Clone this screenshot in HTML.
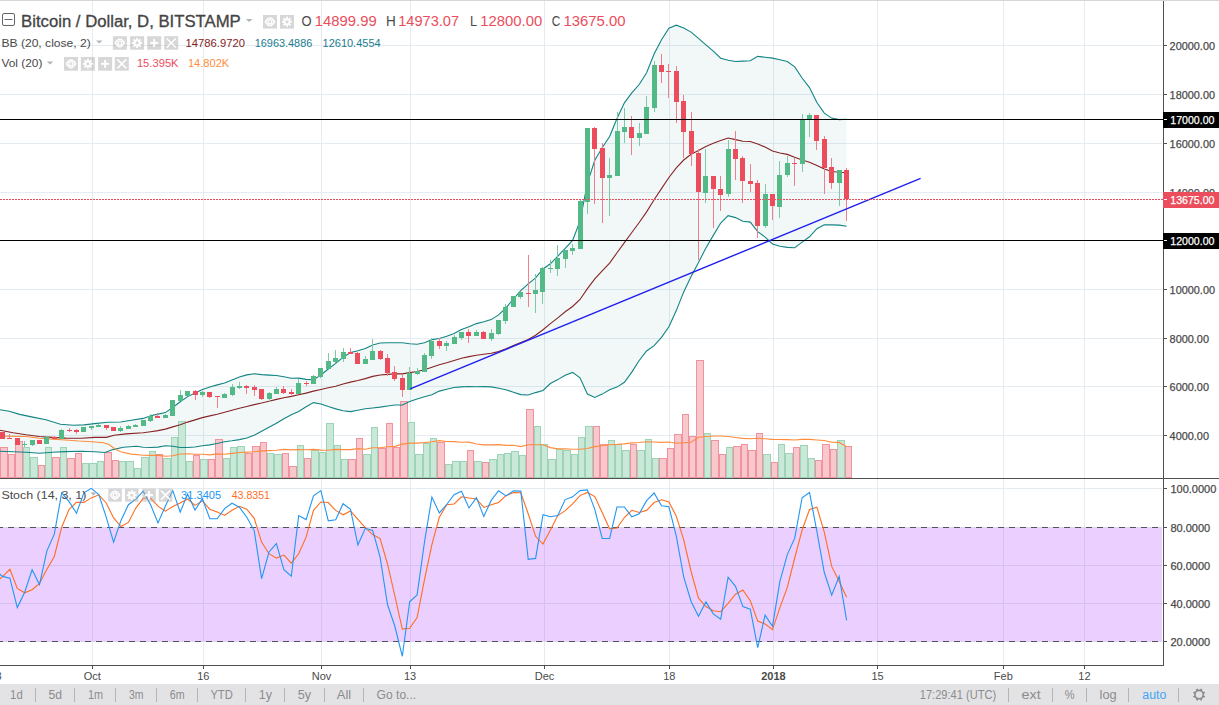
<!DOCTYPE html>
<html><head><meta charset="utf-8"><title>BTCUSD</title>
<style>html,body{margin:0;padding:0;background:#fff;width:1219px;height:705px;overflow:hidden}
svg text{font-family:"Liberation Sans", sans-serif}</style></head>
<body>
<svg width="1219" height="705" viewBox="0 0 1219 705" style="position:absolute;left:0;top:0;font-family:'Liberation Sans', sans-serif">
<rect x="0" y="0" width="1219" height="705" fill="#ffffff"/>
<g shape-rendering="crispEdges" stroke-width="1">
<line x1="0" y1="435.5" x2="1162" y2="435.5" stroke="#e4ecf2"/>
<line x1="0" y1="386.5" x2="1162" y2="386.5" stroke="#e4ecf2"/>
<line x1="0" y1="338.5" x2="1162" y2="338.5" stroke="#e4ecf2"/>
<line x1="0" y1="289.5" x2="1162" y2="289.5" stroke="#e4ecf2"/>
<line x1="0" y1="240.5" x2="1162" y2="240.5" stroke="#e4ecf2"/>
<line x1="0" y1="192.5" x2="1162" y2="192.5" stroke="#e4ecf2"/>
<line x1="0" y1="143.5" x2="1162" y2="143.5" stroke="#e4ecf2"/>
<line x1="0" y1="94.5" x2="1162" y2="94.5" stroke="#e4ecf2"/>
<line x1="0" y1="45.5" x2="1162" y2="45.5" stroke="#e4ecf2"/>
<line x1="0" y1="488.5" x2="1162" y2="488.5" stroke="#e4ecf2"/>
<line x1="0" y1="527.5" x2="1162" y2="527.5" stroke="#e4ecf2"/>
<line x1="0" y1="565.5" x2="1162" y2="565.5" stroke="#e4ecf2"/>
<line x1="0" y1="603.5" x2="1162" y2="603.5" stroke="#e4ecf2"/>
<line x1="0" y1="641.5" x2="1162" y2="641.5" stroke="#e4ecf2"/>
<line x1="92.5" y1="1" x2="92.5" y2="478" stroke="#e4ecf2"/>
<line x1="92.5" y1="479" x2="92.5" y2="665" stroke="#e4ecf2"/>
<line x1="203.5" y1="1" x2="203.5" y2="478" stroke="#e4ecf2"/>
<line x1="203.5" y1="479" x2="203.5" y2="665" stroke="#e4ecf2"/>
<line x1="321.5" y1="1" x2="321.5" y2="478" stroke="#e4ecf2"/>
<line x1="321.5" y1="479" x2="321.5" y2="665" stroke="#e4ecf2"/>
<line x1="410.5" y1="1" x2="410.5" y2="478" stroke="#e4ecf2"/>
<line x1="410.5" y1="479" x2="410.5" y2="665" stroke="#e4ecf2"/>
<line x1="544.5" y1="1" x2="544.5" y2="478" stroke="#e4ecf2"/>
<line x1="544.5" y1="479" x2="544.5" y2="665" stroke="#e4ecf2"/>
<line x1="669.5" y1="1" x2="669.5" y2="478" stroke="#e4ecf2"/>
<line x1="669.5" y1="479" x2="669.5" y2="665" stroke="#e4ecf2"/>
<line x1="773.5" y1="1" x2="773.5" y2="478" stroke="#e4ecf2"/>
<line x1="773.5" y1="479" x2="773.5" y2="665" stroke="#e4ecf2"/>
<line x1="877.5" y1="1" x2="877.5" y2="478" stroke="#e4ecf2"/>
<line x1="877.5" y1="479" x2="877.5" y2="665" stroke="#e4ecf2"/>
<line x1="1003.5" y1="1" x2="1003.5" y2="478" stroke="#e4ecf2"/>
<line x1="1003.5" y1="479" x2="1003.5" y2="665" stroke="#e4ecf2"/>
<line x1="1084.5" y1="1" x2="1084.5" y2="478" stroke="#e4ecf2"/>
<line x1="1084.5" y1="479" x2="1084.5" y2="665" stroke="#e4ecf2"/>
</g>
<rect x="0" y="527.5" width="1162" height="114" fill="#9915ff" fill-opacity="0.2"/>
<line x1="0" y1="527.5" x2="1162" y2="527.5" stroke="#55505a" stroke-width="1" stroke-dasharray="6 5" stroke-dashoffset="3.4" shape-rendering="crispEdges"/>
<line x1="0" y1="641.5" x2="1162" y2="641.5" stroke="#55505a" stroke-width="1" stroke-dasharray="6 5" stroke-dashoffset="3.4" shape-rendering="crispEdges"/>
<polygon points="0.0,409.8 9.2,411.2 19.7,414.4 32.8,417.1 45.9,419.7 60.4,424.3 73.5,425.2 84.0,424.9 94.5,423.6 107.6,422.3 120.7,422.0 131.2,420.3 143.2,418.4 150.6,415.8 158.0,414.1 165.4,412.6 172.8,407.5 180.2,401.8 187.6,396.6 195.0,392.9 202.4,389.4 209.8,387.0 217.2,384.9 224.6,383.0 232.0,379.9 239.4,377.0 246.8,374.9 254.2,373.8 261.6,374.6 269.0,375.1 276.4,375.5 283.9,376.8 291.3,378.2 298.7,378.1 306.1,379.4 313.5,379.7 320.9,375.0 328.3,369.0 335.7,363.4 343.1,357.3 350.5,352.6 357.9,350.8 365.3,348.5 372.7,344.9 380.1,343.0 387.5,342.7 394.9,342.8 402.3,342.8 409.7,343.7 417.1,344.2 424.5,342.8 431.9,339.6 439.3,338.5 446.7,336.3 454.1,333.5 461.5,329.6 469.0,326.8 476.4,323.6 483.8,321.8 491.2,319.6 498.6,314.9 506.0,307.8 513.4,299.0 520.8,290.7 528.2,283.8 535.6,277.9 543.0,269.0 550.4,263.8 557.8,256.1 565.2,248.4 572.6,240.5 580.0,221.2 587.4,183.2 594.8,160.3 602.2,147.7 609.6,136.5 617.0,118.5 624.4,102.8 631.8,92.9 639.2,84.5 646.6,72.8 654.1,54.0 661.5,39.7 668.9,28.3 676.3,25.2 683.7,28.1 691.1,32.1 698.5,38.4 705.9,44.8 713.3,51.2 720.7,58.2 728.1,60.3 735.5,61.5 742.9,61.1 750.3,60.8 757.7,56.4 765.1,57.2 772.5,58.1 779.9,59.7 787.3,61.5 794.7,66.9 802.1,78.0 809.5,87.6 816.9,102.5 824.3,113.1 831.7,118.1 839.2,119.6 846.6,119.3 846.6,226.2 839.2,225.1 831.7,224.9 824.3,224.7 816.9,228.7 809.5,236.8 802.1,242.1 794.7,247.7 787.3,247.4 779.9,246.2 772.5,244.0 765.1,237.1 757.7,231.6 750.3,222.1 742.9,221.2 735.5,217.6 728.1,215.7 720.7,223.0 713.3,235.4 705.9,247.9 698.5,262.6 691.1,276.5 683.7,291.9 676.3,310.6 668.9,326.7 661.5,337.4 654.1,345.6 646.6,351.0 639.2,360.5 631.8,372.1 624.4,382.3 617.0,387.1 609.6,389.7 602.2,394.1 594.8,397.4 587.4,394.0 580.0,377.8 572.6,372.4 565.2,375.2 557.8,379.6 550.4,383.5 543.0,390.5 535.6,392.6 528.2,395.0 520.8,394.6 513.4,392.2 506.0,389.7 498.6,388.2 491.2,386.9 483.8,386.6 476.4,386.8 469.0,386.5 461.5,386.9 454.1,387.5 446.7,389.3 439.3,391.1 431.9,394.8 424.5,396.8 417.1,398.9 409.7,401.6 402.3,405.0 394.9,405.0 387.5,406.0 380.1,407.1 372.7,408.0 365.3,408.8 357.9,410.2 350.5,411.6 343.1,410.8 335.7,408.9 328.3,406.6 320.9,404.0 313.5,402.6 306.1,406.7 298.7,411.5 291.3,414.7 283.9,418.7 276.4,423.3 269.0,427.3 261.6,431.3 254.2,435.3 246.8,438.0 239.4,439.6 232.0,440.8 224.6,441.7 217.2,443.5 209.8,444.9 202.4,445.7 195.0,447.0 187.6,447.5 180.2,447.5 172.8,446.3 165.4,445.7 158.0,447.1 150.6,447.5 143.2,447.2 136.5,446.2 123.4,447.2 112.9,449.6 105.0,452.5 94.5,451.8 81.4,451.2 65.6,451.6 52.5,452.2 39.4,453.2 26.2,452.2 13.1,451.8 0.0,451.2" fill="#198787" fill-opacity="0.055"/>
<g shape-rendering="crispEdges">
<rect x="0.5" y="447.5" width="7" height="30" fill="#f9c8cd" stroke="#f0939e" stroke-width="1"/>
<rect x="8.5" y="454.5" width="6" height="23" fill="#f9c8cd" stroke="#f0939e" stroke-width="1"/>
<rect x="15.5" y="441.5" width="7" height="36" fill="#f9c8cd" stroke="#f0939e" stroke-width="1"/>
<rect x="23.5" y="447.5" width="6" height="30" fill="#c9e8d8" stroke="#9dd4b8" stroke-width="1"/>
<rect x="30.5" y="457.5" width="7" height="20" fill="#c9e8d8" stroke="#9dd4b8" stroke-width="1"/>
<rect x="38.5" y="465.5" width="6" height="12" fill="#f9c8cd" stroke="#f0939e" stroke-width="1"/>
<rect x="45.5" y="447.5" width="6" height="30" fill="#c9e8d8" stroke="#9dd4b8" stroke-width="1"/>
<rect x="52.5" y="457.5" width="7" height="20" fill="#f9c8cd" stroke="#f0939e" stroke-width="1"/>
<rect x="60.5" y="447.5" width="6" height="30" fill="#c9e8d8" stroke="#9dd4b8" stroke-width="1"/>
<rect x="67.5" y="458.5" width="7" height="19" fill="#f9c8cd" stroke="#f0939e" stroke-width="1"/>
<rect x="75.5" y="453.5" width="6" height="24" fill="#f9c8cd" stroke="#f0939e" stroke-width="1"/>
<rect x="82.5" y="463.5" width="6" height="14" fill="#c9e8d8" stroke="#9dd4b8" stroke-width="1"/>
<rect x="89.5" y="463.5" width="7" height="14" fill="#c9e8d8" stroke="#9dd4b8" stroke-width="1"/>
<rect x="97.5" y="461.5" width="6" height="16" fill="#c9e8d8" stroke="#9dd4b8" stroke-width="1"/>
<rect x="104.5" y="452.5" width="7" height="25" fill="#f9c8cd" stroke="#f0939e" stroke-width="1"/>
<rect x="112.5" y="460.5" width="6" height="17" fill="#f9c8cd" stroke="#f0939e" stroke-width="1"/>
<rect x="119.5" y="461.5" width="6" height="16" fill="#c9e8d8" stroke="#9dd4b8" stroke-width="1"/>
<rect x="126.5" y="461.5" width="7" height="16" fill="#c9e8d8" stroke="#9dd4b8" stroke-width="1"/>
<rect x="134.5" y="468.5" width="6" height="9" fill="#c9e8d8" stroke="#9dd4b8" stroke-width="1"/>
<rect x="141.5" y="457.5" width="7" height="20" fill="#c9e8d8" stroke="#9dd4b8" stroke-width="1"/>
<rect x="149.5" y="451.5" width="6" height="26" fill="#c9e8d8" stroke="#9dd4b8" stroke-width="1"/>
<rect x="156.5" y="454.5" width="6" height="23" fill="#f9c8cd" stroke="#f0939e" stroke-width="1"/>
<rect x="163.5" y="458.5" width="7" height="19" fill="#c9e8d8" stroke="#9dd4b8" stroke-width="1"/>
<rect x="171.5" y="437.5" width="6" height="40" fill="#c9e8d8" stroke="#9dd4b8" stroke-width="1"/>
<rect x="178.5" y="421.5" width="7" height="56" fill="#c9e8d8" stroke="#9dd4b8" stroke-width="1"/>
<rect x="186.5" y="461.5" width="6" height="16" fill="#c9e8d8" stroke="#9dd4b8" stroke-width="1"/>
<rect x="193.5" y="455.5" width="6" height="22" fill="#f9c8cd" stroke="#f0939e" stroke-width="1"/>
<rect x="200.5" y="459.5" width="7" height="18" fill="#c9e8d8" stroke="#9dd4b8" stroke-width="1"/>
<rect x="208.5" y="459.5" width="6" height="18" fill="#f9c8cd" stroke="#f0939e" stroke-width="1"/>
<rect x="215.5" y="439.5" width="7" height="38" fill="#f9c8cd" stroke="#f0939e" stroke-width="1"/>
<rect x="223.5" y="458.5" width="6" height="19" fill="#c9e8d8" stroke="#9dd4b8" stroke-width="1"/>
<rect x="230.5" y="447.5" width="6" height="30" fill="#c9e8d8" stroke="#9dd4b8" stroke-width="1"/>
<rect x="237.5" y="446.5" width="7" height="31" fill="#c9e8d8" stroke="#9dd4b8" stroke-width="1"/>
<rect x="245.5" y="453.5" width="6" height="24" fill="#f9c8cd" stroke="#f0939e" stroke-width="1"/>
<rect x="252.5" y="446.5" width="7" height="31" fill="#f9c8cd" stroke="#f0939e" stroke-width="1"/>
<rect x="260.5" y="442.5" width="6" height="35" fill="#f9c8cd" stroke="#f0939e" stroke-width="1"/>
<rect x="267.5" y="453.5" width="6" height="24" fill="#c9e8d8" stroke="#9dd4b8" stroke-width="1"/>
<rect x="274.5" y="454.5" width="7" height="23" fill="#c9e8d8" stroke="#9dd4b8" stroke-width="1"/>
<rect x="282.5" y="453.5" width="6" height="24" fill="#f9c8cd" stroke="#f0939e" stroke-width="1"/>
<rect x="289.5" y="466.5" width="7" height="11" fill="#f9c8cd" stroke="#f0939e" stroke-width="1"/>
<rect x="297.5" y="445.5" width="6" height="32" fill="#c9e8d8" stroke="#9dd4b8" stroke-width="1"/>
<rect x="304.5" y="458.5" width="6" height="19" fill="#f9c8cd" stroke="#f0939e" stroke-width="1"/>
<rect x="311.5" y="450.5" width="7" height="27" fill="#c9e8d8" stroke="#9dd4b8" stroke-width="1"/>
<rect x="319.5" y="452.5" width="6" height="25" fill="#c9e8d8" stroke="#9dd4b8" stroke-width="1"/>
<rect x="326.5" y="423.5" width="7" height="54" fill="#c9e8d8" stroke="#9dd4b8" stroke-width="1"/>
<rect x="334.5" y="445.5" width="6" height="32" fill="#c9e8d8" stroke="#9dd4b8" stroke-width="1"/>
<rect x="341.5" y="459.5" width="6" height="18" fill="#c9e8d8" stroke="#9dd4b8" stroke-width="1"/>
<rect x="348.5" y="459.5" width="7" height="18" fill="#f9c8cd" stroke="#f0939e" stroke-width="1"/>
<rect x="356.5" y="438.5" width="6" height="39" fill="#f9c8cd" stroke="#f0939e" stroke-width="1"/>
<rect x="363.5" y="454.5" width="7" height="23" fill="#c9e8d8" stroke="#9dd4b8" stroke-width="1"/>
<rect x="371.5" y="427.5" width="6" height="50" fill="#c9e8d8" stroke="#9dd4b8" stroke-width="1"/>
<rect x="378.5" y="448.5" width="7" height="29" fill="#f9c8cd" stroke="#f0939e" stroke-width="1"/>
<rect x="386.5" y="423.5" width="6" height="54" fill="#f9c8cd" stroke="#f0939e" stroke-width="1"/>
<rect x="393.5" y="447.5" width="6" height="30" fill="#f9c8cd" stroke="#f0939e" stroke-width="1"/>
<rect x="400.5" y="401.5" width="7" height="76" fill="#f9c8cd" stroke="#f0939e" stroke-width="1"/>
<rect x="408.5" y="422.5" width="6" height="55" fill="#c9e8d8" stroke="#9dd4b8" stroke-width="1"/>
<rect x="415.5" y="454.5" width="7" height="23" fill="#c9e8d8" stroke="#9dd4b8" stroke-width="1"/>
<rect x="423.5" y="443.5" width="6" height="34" fill="#c9e8d8" stroke="#9dd4b8" stroke-width="1"/>
<rect x="430.5" y="438.5" width="6" height="39" fill="#c9e8d8" stroke="#9dd4b8" stroke-width="1"/>
<rect x="437.5" y="442.5" width="7" height="35" fill="#f9c8cd" stroke="#f0939e" stroke-width="1"/>
<rect x="445.5" y="464.5" width="6" height="13" fill="#c9e8d8" stroke="#9dd4b8" stroke-width="1"/>
<rect x="452.5" y="461.5" width="7" height="16" fill="#c9e8d8" stroke="#9dd4b8" stroke-width="1"/>
<rect x="460.5" y="461.5" width="6" height="16" fill="#c9e8d8" stroke="#9dd4b8" stroke-width="1"/>
<rect x="467.5" y="450.5" width="6" height="27" fill="#f9c8cd" stroke="#f0939e" stroke-width="1"/>
<rect x="474.5" y="461.5" width="7" height="16" fill="#c9e8d8" stroke="#9dd4b8" stroke-width="1"/>
<rect x="482.5" y="462.5" width="6" height="15" fill="#f9c8cd" stroke="#f0939e" stroke-width="1"/>
<rect x="489.5" y="459.5" width="7" height="18" fill="#c9e8d8" stroke="#9dd4b8" stroke-width="1"/>
<rect x="497.5" y="454.5" width="6" height="23" fill="#c9e8d8" stroke="#9dd4b8" stroke-width="1"/>
<rect x="504.5" y="453.5" width="6" height="24" fill="#c9e8d8" stroke="#9dd4b8" stroke-width="1"/>
<rect x="511.5" y="451.5" width="7" height="26" fill="#c9e8d8" stroke="#9dd4b8" stroke-width="1"/>
<rect x="519.5" y="455.5" width="6" height="22" fill="#c9e8d8" stroke="#9dd4b8" stroke-width="1"/>
<rect x="526.5" y="409.5" width="7" height="68" fill="#f9c8cd" stroke="#f0939e" stroke-width="1"/>
<rect x="534.5" y="426.5" width="6" height="51" fill="#c9e8d8" stroke="#9dd4b8" stroke-width="1"/>
<rect x="541.5" y="444.5" width="6" height="33" fill="#c9e8d8" stroke="#9dd4b8" stroke-width="1"/>
<rect x="548.5" y="459.5" width="7" height="18" fill="#c9e8d8" stroke="#9dd4b8" stroke-width="1"/>
<rect x="556.5" y="449.5" width="6" height="28" fill="#c9e8d8" stroke="#9dd4b8" stroke-width="1"/>
<rect x="563.5" y="450.5" width="7" height="27" fill="#c9e8d8" stroke="#9dd4b8" stroke-width="1"/>
<rect x="571.5" y="454.5" width="6" height="23" fill="#c9e8d8" stroke="#9dd4b8" stroke-width="1"/>
<rect x="578.5" y="437.5" width="6" height="40" fill="#c9e8d8" stroke="#9dd4b8" stroke-width="1"/>
<rect x="585.5" y="426.5" width="7" height="51" fill="#c9e8d8" stroke="#9dd4b8" stroke-width="1"/>
<rect x="593.5" y="426.5" width="6" height="51" fill="#f9c8cd" stroke="#f0939e" stroke-width="1"/>
<rect x="600.5" y="444.5" width="7" height="33" fill="#f9c8cd" stroke="#f0939e" stroke-width="1"/>
<rect x="608.5" y="440.5" width="6" height="37" fill="#c9e8d8" stroke="#9dd4b8" stroke-width="1"/>
<rect x="615.5" y="444.5" width="6" height="33" fill="#c9e8d8" stroke="#9dd4b8" stroke-width="1"/>
<rect x="622.5" y="450.5" width="7" height="27" fill="#c9e8d8" stroke="#9dd4b8" stroke-width="1"/>
<rect x="630.5" y="444.5" width="6" height="33" fill="#f9c8cd" stroke="#f0939e" stroke-width="1"/>
<rect x="637.5" y="450.5" width="7" height="27" fill="#c9e8d8" stroke="#9dd4b8" stroke-width="1"/>
<rect x="645.5" y="439.5" width="6" height="38" fill="#c9e8d8" stroke="#9dd4b8" stroke-width="1"/>
<rect x="652.5" y="458.5" width="6" height="19" fill="#c9e8d8" stroke="#9dd4b8" stroke-width="1"/>
<rect x="659.5" y="458.5" width="7" height="19" fill="#f9c8cd" stroke="#f0939e" stroke-width="1"/>
<rect x="667.5" y="448.5" width="6" height="29" fill="#f9c8cd" stroke="#f0939e" stroke-width="1"/>
<rect x="674.5" y="434.5" width="7" height="43" fill="#f9c8cd" stroke="#f0939e" stroke-width="1"/>
<rect x="682.5" y="414.5" width="6" height="63" fill="#f9c8cd" stroke="#f0939e" stroke-width="1"/>
<rect x="689.5" y="436.5" width="6" height="41" fill="#f9c8cd" stroke="#f0939e" stroke-width="1"/>
<rect x="696.5" y="360.5" width="7" height="117" fill="#f9c8cd" stroke="#f0939e" stroke-width="1"/>
<rect x="704.5" y="433.5" width="6" height="44" fill="#c9e8d8" stroke="#9dd4b8" stroke-width="1"/>
<rect x="711.5" y="440.5" width="7" height="37" fill="#f9c8cd" stroke="#f0939e" stroke-width="1"/>
<rect x="719.5" y="454.5" width="6" height="23" fill="#f9c8cd" stroke="#f0939e" stroke-width="1"/>
<rect x="726.5" y="447.5" width="6" height="30" fill="#c9e8d8" stroke="#9dd4b8" stroke-width="1"/>
<rect x="733.5" y="446.5" width="7" height="31" fill="#f9c8cd" stroke="#f0939e" stroke-width="1"/>
<rect x="741.5" y="444.5" width="6" height="33" fill="#f9c8cd" stroke="#f0939e" stroke-width="1"/>
<rect x="748.5" y="450.5" width="7" height="27" fill="#f9c8cd" stroke="#f0939e" stroke-width="1"/>
<rect x="756.5" y="433.5" width="6" height="44" fill="#f9c8cd" stroke="#f0939e" stroke-width="1"/>
<rect x="763.5" y="454.5" width="7" height="23" fill="#c9e8d8" stroke="#9dd4b8" stroke-width="1"/>
<rect x="771.5" y="462.5" width="6" height="15" fill="#f9c8cd" stroke="#f0939e" stroke-width="1"/>
<rect x="778.5" y="444.5" width="6" height="33" fill="#c9e8d8" stroke="#9dd4b8" stroke-width="1"/>
<rect x="785.5" y="453.5" width="7" height="24" fill="#c9e8d8" stroke="#9dd4b8" stroke-width="1"/>
<rect x="793.5" y="447.5" width="6" height="30" fill="#f9c8cd" stroke="#f0939e" stroke-width="1"/>
<rect x="800.5" y="445.5" width="7" height="32" fill="#c9e8d8" stroke="#9dd4b8" stroke-width="1"/>
<rect x="808.5" y="458.5" width="6" height="19" fill="#c9e8d8" stroke="#9dd4b8" stroke-width="1"/>
<rect x="815.5" y="460.5" width="6" height="17" fill="#f9c8cd" stroke="#f0939e" stroke-width="1"/>
<rect x="822.5" y="444.5" width="7" height="33" fill="#f9c8cd" stroke="#f0939e" stroke-width="1"/>
<rect x="830.5" y="449.5" width="6" height="28" fill="#f9c8cd" stroke="#f0939e" stroke-width="1"/>
<rect x="837.5" y="440.5" width="7" height="37" fill="#c9e8d8" stroke="#9dd4b8" stroke-width="1"/>
<rect x="845.5" y="446.5" width="6" height="31" fill="#f9c8cd" stroke="#f0939e" stroke-width="1"/>
</g>
<polyline points="0.0,409.8 9.2,411.2 19.7,414.4 32.8,417.1 45.9,419.7 60.4,424.3 73.5,425.2 84.0,424.9 94.5,423.6 107.6,422.3 120.7,422.0 131.2,420.3 143.2,418.4 150.6,415.8 158.0,414.1 165.4,412.6 172.8,407.5 180.2,401.8 187.6,396.6 195.0,392.9 202.4,389.4 209.8,387.0 217.2,384.9 224.6,383.0 232.0,379.9 239.4,377.0 246.8,374.9 254.2,373.8 261.6,374.6 269.0,375.1 276.4,375.5 283.9,376.8 291.3,378.2 298.7,378.1 306.1,379.4 313.5,379.7 320.9,375.0 328.3,369.0 335.7,363.4 343.1,357.3 350.5,352.6 357.9,350.8 365.3,348.5 372.7,344.9 380.1,343.0 387.5,342.7 394.9,342.8 402.3,342.8 409.7,343.7 417.1,344.2 424.5,342.8 431.9,339.6 439.3,338.5 446.7,336.3 454.1,333.5 461.5,329.6 469.0,326.8 476.4,323.6 483.8,321.8 491.2,319.6 498.6,314.9 506.0,307.8 513.4,299.0 520.8,290.7 528.2,283.8 535.6,277.9 543.0,269.0 550.4,263.8 557.8,256.1 565.2,248.4 572.6,240.5 580.0,221.2 587.4,183.2 594.8,160.3 602.2,147.7 609.6,136.5 617.0,118.5 624.4,102.8 631.8,92.9 639.2,84.5 646.6,72.8 654.1,54.0 661.5,39.7 668.9,28.3 676.3,25.2 683.7,28.1 691.1,32.1 698.5,38.4 705.9,44.8 713.3,51.2 720.7,58.2 728.1,60.3 735.5,61.5 742.9,61.1 750.3,60.8 757.7,56.4 765.1,57.2 772.5,58.1 779.9,59.7 787.3,61.5 794.7,66.9 802.1,78.0 809.5,87.6 816.9,102.5 824.3,113.1 831.7,118.1 839.2,119.6 846.6,119.3" fill="none" stroke="#138484" stroke-width="1.1"/>
<polyline points="0.0,451.2 13.1,451.8 26.2,452.2 39.4,453.2 52.5,452.2 65.6,451.6 81.4,451.2 94.5,451.8 105.0,452.5 112.9,449.6 123.4,447.2 136.5,446.2 143.2,447.2 150.6,447.5 158.0,447.1 165.4,445.7 172.8,446.3 180.2,447.5 187.6,447.5 195.0,447.0 202.4,445.7 209.8,444.9 217.2,443.5 224.6,441.7 232.0,440.8 239.4,439.6 246.8,438.0 254.2,435.3 261.6,431.3 269.0,427.3 276.4,423.3 283.9,418.7 291.3,414.7 298.7,411.5 306.1,406.7 313.5,402.6 320.9,404.0 328.3,406.6 335.7,408.9 343.1,410.8 350.5,411.6 357.9,410.2 365.3,408.8 372.7,408.0 380.1,407.1 387.5,406.0 394.9,405.0 402.3,405.0 409.7,401.6 417.1,398.9 424.5,396.8 431.9,394.8 439.3,391.1 446.7,389.3 454.1,387.5 461.5,386.9 469.0,386.5 476.4,386.8 483.8,386.6 491.2,386.9 498.6,388.2 506.0,389.7 513.4,392.2 520.8,394.6 528.2,395.0 535.6,392.6 543.0,390.5 550.4,383.5 557.8,379.6 565.2,375.2 572.6,372.4 580.0,377.8 587.4,394.0 594.8,397.4 602.2,394.1 609.6,389.7 617.0,387.1 624.4,382.3 631.8,372.1 639.2,360.5 646.6,351.0 654.1,345.6 661.5,337.4 668.9,326.7 676.3,310.6 683.7,291.9 691.1,276.5 698.5,262.6 705.9,247.9 713.3,235.4 720.7,223.0 728.1,215.7 735.5,217.6 742.9,221.2 750.3,222.1 757.7,231.6 765.1,237.1 772.5,244.0 779.9,246.2 787.3,247.4 794.7,247.7 802.1,242.1 809.5,236.8 816.9,228.7 824.3,224.7 831.7,224.9 839.2,225.1 846.6,226.2" fill="none" stroke="#138484" stroke-width="1.1"/>
<polyline points="0.0,430.2 13.1,432.8 26.2,434.8 39.4,436.5 52.5,437.4 65.6,438.1 81.4,438.3 94.5,437.4 106.3,437.4 114.2,435.2 126.0,433.9 143.2,432.8 150.6,431.7 158.0,430.6 165.4,429.1 172.8,426.9 180.2,424.7 187.6,422.1 195.0,419.9 202.4,417.6 209.8,415.9 217.2,414.2 224.6,412.3 232.0,410.3 239.4,408.3 246.8,406.5 254.2,404.6 261.6,403.0 269.0,401.2 276.4,399.4 283.9,397.8 291.3,396.4 298.7,394.8 306.1,393.1 313.5,391.1 320.9,389.5 328.3,387.8 335.7,386.2 343.1,384.0 350.5,382.1 357.9,380.5 365.3,378.6 372.7,376.4 380.1,375.0 387.5,374.4 394.9,373.9 402.3,373.9 409.7,372.6 417.1,371.5 424.5,369.8 431.9,367.2 439.3,364.8 446.7,362.8 454.1,360.5 461.5,358.3 469.0,356.6 476.4,355.2 483.8,354.2 491.2,353.3 498.6,351.6 506.0,348.7 513.4,345.6 520.8,342.6 528.2,339.4 535.6,335.2 543.0,329.7 550.4,323.6 557.8,317.9 565.2,311.8 572.6,306.5 580.0,299.5 587.4,288.6 594.8,278.9 602.2,270.9 609.6,263.1 617.0,252.8 624.4,242.6 631.8,232.5 639.2,222.5 646.6,211.9 654.1,199.8 661.5,188.6 668.9,177.5 676.3,167.9 683.7,160.0 691.1,154.3 698.5,150.5 705.9,146.4 713.3,143.3 720.7,140.6 728.1,138.0 735.5,139.6 742.9,141.2 750.3,141.5 757.7,144.0 765.1,147.1 772.5,151.1 779.9,153.0 787.3,154.4 794.7,157.3 802.1,160.0 809.5,162.2 816.9,165.6 824.3,168.9 831.7,171.5 839.2,172.3 846.6,172.7" fill="none" stroke="#872323" stroke-width="1.1"/>
<polyline points="0.0,436.1 26.2,436.5 39.4,438.3 52.5,439.1 65.6,440.0 78.7,441.0 91.9,441.7 103.7,442.7 108.9,444.6 115.5,449.2 120.7,451.8 131.2,454.1 143.2,455.2 150.6,455.4 158.0,455.4 165.4,456.3 172.8,455.8 180.2,454.0 187.6,453.8 195.0,454.2 202.4,454.3 209.8,454.9 217.2,453.9 224.6,454.2 232.0,453.4 239.4,452.5 246.8,452.1 254.2,451.8 261.6,450.9 269.0,450.6 276.4,450.2 283.9,449.4 291.3,449.9 298.7,449.6 306.1,449.8 313.5,449.4 320.9,450.1 328.3,450.2 335.7,449.4 343.1,449.6 350.5,449.6 357.9,448.6 365.3,449.3 372.7,447.8 380.1,447.8 387.5,446.7 394.9,446.4 402.3,444.1 409.7,443.1 417.1,443.1 424.5,442.6 431.9,441.8 439.3,440.6 446.7,441.5 454.1,441.6 461.5,442.2 469.0,442.1 476.4,444.0 483.8,444.9 491.2,444.9 498.6,444.6 506.0,445.4 513.4,445.2 520.8,446.6 528.2,444.7 535.6,444.8 543.0,444.7 550.4,447.6 557.8,448.9 565.2,448.7 572.6,449.3 580.0,449.3 587.4,448.5 594.8,446.6 602.2,445.8 609.6,444.7 617.0,444.4 624.4,443.9 631.8,442.9 639.2,442.5 646.6,441.7 654.1,442.0 661.5,442.4 668.9,442.0 676.3,443.3 683.7,442.7 691.1,442.3 698.5,437.3 705.9,436.5 713.3,436.0 720.7,436.0 728.1,436.5 735.5,437.5 742.9,438.4 750.3,438.7 757.7,438.3 765.1,438.8 772.5,439.4 779.9,439.5 787.3,439.6 794.7,440.0 802.1,439.4 809.5,439.4 816.9,440.0 824.3,440.5 831.7,442.2 839.2,442.4 846.6,446.7" fill="none" stroke="#ff8c3c" stroke-width="1.1"/>
<g shape-rendering="crispEdges">
<rect x="2" y="432" width="1" height="7" fill="#ef7f8b"/>
<rect x="0" y="432" width="5" height="7" fill="#eb4d5c"/>
<rect x="9" y="434" width="1" height="5" fill="#ef7f8b"/>
<rect x="7" y="438" width="5" height="1" fill="#eb4d5c"/>
<rect x="17" y="438" width="1" height="7" fill="#ef7f8b"/>
<rect x="15" y="438" width="5" height="7" fill="#eb4d5c"/>
<rect x="24" y="441" width="1" height="6" fill="#7fcaa5"/>
<rect x="22" y="444" width="5" height="1" fill="#53b987"/>
<rect x="32" y="440" width="1" height="6" fill="#7fcaa5"/>
<rect x="30" y="440" width="5" height="5" fill="#53b987"/>
<rect x="39" y="440" width="1" height="4" fill="#ef7f8b"/>
<rect x="37" y="440" width="5" height="4" fill="#eb4d5c"/>
<rect x="46" y="436" width="1" height="8" fill="#7fcaa5"/>
<rect x="44" y="437" width="5" height="7" fill="#53b987"/>
<rect x="54" y="436" width="1" height="3" fill="#ef7f8b"/>
<rect x="52" y="437" width="5" height="2" fill="#eb4d5c"/>
<rect x="61" y="429" width="1" height="10" fill="#7fcaa5"/>
<rect x="59" y="430" width="5" height="9" fill="#53b987"/>
<rect x="69" y="428" width="1" height="4" fill="#ef7f8b"/>
<rect x="67" y="430" width="5" height="1" fill="#eb4d5c"/>
<rect x="76" y="429" width="1" height="5" fill="#ef7f8b"/>
<rect x="74" y="430" width="5" height="2" fill="#eb4d5c"/>
<rect x="83" y="427" width="1" height="5" fill="#7fcaa5"/>
<rect x="81" y="427" width="5" height="5" fill="#53b987"/>
<rect x="91" y="426" width="1" height="4" fill="#7fcaa5"/>
<rect x="89" y="426" width="5" height="2" fill="#53b987"/>
<rect x="98" y="424" width="1" height="3" fill="#7fcaa5"/>
<rect x="96" y="425" width="5" height="2" fill="#53b987"/>
<rect x="106" y="425" width="1" height="5" fill="#ef7f8b"/>
<rect x="104" y="425" width="5" height="3" fill="#eb4d5c"/>
<rect x="113" y="427" width="1" height="4" fill="#ef7f8b"/>
<rect x="111" y="427" width="5" height="4" fill="#eb4d5c"/>
<rect x="120" y="426" width="1" height="6" fill="#7fcaa5"/>
<rect x="118" y="428" width="5" height="3" fill="#53b987"/>
<rect x="128" y="425" width="1" height="4" fill="#7fcaa5"/>
<rect x="126" y="426" width="5" height="3" fill="#53b987"/>
<rect x="135" y="424" width="1" height="3" fill="#7fcaa5"/>
<rect x="133" y="425" width="5" height="2" fill="#53b987"/>
<rect x="143" y="420" width="1" height="6" fill="#7fcaa5"/>
<rect x="141" y="420" width="5" height="6" fill="#53b987"/>
<rect x="150" y="414" width="1" height="8" fill="#7fcaa5"/>
<rect x="148" y="416" width="5" height="5" fill="#53b987"/>
<rect x="157" y="413" width="1" height="5" fill="#ef7f8b"/>
<rect x="155" y="416" width="5" height="2" fill="#eb4d5c"/>
<rect x="165" y="414" width="1" height="4" fill="#7fcaa5"/>
<rect x="163" y="415" width="5" height="3" fill="#53b987"/>
<rect x="172" y="400" width="1" height="16" fill="#7fcaa5"/>
<rect x="170" y="400" width="5" height="16" fill="#53b987"/>
<rect x="180" y="390" width="1" height="11" fill="#7fcaa5"/>
<rect x="178" y="395" width="5" height="6" fill="#53b987"/>
<rect x="187" y="391" width="1" height="5" fill="#7fcaa5"/>
<rect x="185" y="391" width="5" height="5" fill="#53b987"/>
<rect x="195" y="390" width="1" height="10" fill="#ef7f8b"/>
<rect x="193" y="391" width="5" height="4" fill="#eb4d5c"/>
<rect x="202" y="391" width="1" height="6" fill="#7fcaa5"/>
<rect x="200" y="392" width="5" height="3" fill="#53b987"/>
<rect x="209" y="392" width="1" height="6" fill="#ef7f8b"/>
<rect x="207" y="392" width="5" height="5" fill="#eb4d5c"/>
<rect x="217" y="396" width="1" height="12" fill="#ef7f8b"/>
<rect x="215" y="396" width="5" height="1" fill="#eb4d5c"/>
<rect x="224" y="393" width="1" height="5" fill="#7fcaa5"/>
<rect x="222" y="394" width="5" height="4" fill="#53b987"/>
<rect x="232" y="384" width="1" height="12" fill="#7fcaa5"/>
<rect x="230" y="387" width="5" height="8" fill="#53b987"/>
<rect x="239" y="382" width="1" height="7" fill="#7fcaa5"/>
<rect x="237" y="386" width="5" height="2" fill="#53b987"/>
<rect x="246" y="385" width="1" height="9" fill="#ef7f8b"/>
<rect x="244" y="386" width="5" height="2" fill="#eb4d5c"/>
<rect x="254" y="385" width="1" height="11" fill="#ef7f8b"/>
<rect x="252" y="387" width="5" height="3" fill="#eb4d5c"/>
<rect x="261" y="389" width="1" height="11" fill="#ef7f8b"/>
<rect x="259" y="389" width="5" height="10" fill="#eb4d5c"/>
<rect x="269" y="392" width="1" height="10" fill="#7fcaa5"/>
<rect x="267" y="393" width="5" height="6" fill="#53b987"/>
<rect x="276" y="387" width="1" height="7" fill="#7fcaa5"/>
<rect x="274" y="389" width="5" height="5" fill="#53b987"/>
<rect x="283" y="386" width="1" height="8" fill="#ef7f8b"/>
<rect x="281" y="389" width="5" height="4" fill="#eb4d5c"/>
<rect x="291" y="389" width="1" height="6" fill="#ef7f8b"/>
<rect x="289" y="392" width="5" height="2" fill="#eb4d5c"/>
<rect x="298" y="379" width="1" height="15" fill="#7fcaa5"/>
<rect x="296" y="383" width="5" height="11" fill="#53b987"/>
<rect x="306" y="381" width="1" height="5" fill="#ef7f8b"/>
<rect x="304" y="383" width="5" height="1" fill="#eb4d5c"/>
<rect x="313" y="375" width="1" height="9" fill="#7fcaa5"/>
<rect x="311" y="376" width="5" height="8" fill="#53b987"/>
<rect x="320" y="368" width="1" height="10" fill="#7fcaa5"/>
<rect x="318" y="368" width="5" height="9" fill="#53b987"/>
<rect x="328" y="353" width="1" height="16" fill="#7fcaa5"/>
<rect x="326" y="361" width="5" height="8" fill="#53b987"/>
<rect x="335" y="350" width="1" height="13" fill="#7fcaa5"/>
<rect x="333" y="358" width="5" height="4" fill="#53b987"/>
<rect x="343" y="348" width="1" height="14" fill="#7fcaa5"/>
<rect x="341" y="352" width="5" height="7" fill="#53b987"/>
<rect x="350" y="348" width="1" height="6" fill="#ef7f8b"/>
<rect x="348" y="352" width="5" height="2" fill="#eb4d5c"/>
<rect x="357" y="352" width="1" height="12" fill="#ef7f8b"/>
<rect x="355" y="353" width="5" height="11" fill="#eb4d5c"/>
<rect x="365" y="356" width="1" height="8" fill="#7fcaa5"/>
<rect x="363" y="359" width="5" height="5" fill="#53b987"/>
<rect x="372" y="339" width="1" height="21" fill="#7fcaa5"/>
<rect x="370" y="351" width="5" height="9" fill="#53b987"/>
<rect x="380" y="350" width="1" height="10" fill="#ef7f8b"/>
<rect x="378" y="351" width="5" height="8" fill="#eb4d5c"/>
<rect x="387" y="354" width="1" height="22" fill="#ef7f8b"/>
<rect x="385" y="358" width="5" height="15" fill="#eb4d5c"/>
<rect x="394" y="366" width="1" height="15" fill="#ef7f8b"/>
<rect x="392" y="372" width="5" height="7" fill="#eb4d5c"/>
<rect x="402" y="374" width="1" height="23" fill="#ef7f8b"/>
<rect x="400" y="378" width="5" height="12" fill="#eb4d5c"/>
<rect x="409" y="367" width="1" height="23" fill="#7fcaa5"/>
<rect x="407" y="373" width="5" height="17" fill="#53b987"/>
<rect x="417" y="368" width="1" height="7" fill="#7fcaa5"/>
<rect x="415" y="371" width="5" height="3" fill="#53b987"/>
<rect x="424" y="353" width="1" height="19" fill="#7fcaa5"/>
<rect x="422" y="355" width="5" height="17" fill="#53b987"/>
<rect x="431" y="338" width="1" height="21" fill="#7fcaa5"/>
<rect x="429" y="341" width="5" height="15" fill="#53b987"/>
<rect x="439" y="338" width="1" height="11" fill="#ef7f8b"/>
<rect x="437" y="341" width="5" height="5" fill="#eb4d5c"/>
<rect x="446" y="341" width="1" height="10" fill="#7fcaa5"/>
<rect x="444" y="343" width="5" height="3" fill="#53b987"/>
<rect x="454" y="335" width="1" height="9" fill="#7fcaa5"/>
<rect x="452" y="337" width="5" height="7" fill="#53b987"/>
<rect x="461" y="332" width="1" height="8" fill="#7fcaa5"/>
<rect x="459" y="332" width="5" height="6" fill="#53b987"/>
<rect x="468" y="329" width="1" height="14" fill="#ef7f8b"/>
<rect x="466" y="332" width="5" height="4" fill="#eb4d5c"/>
<rect x="476" y="330" width="1" height="6" fill="#7fcaa5"/>
<rect x="474" y="332" width="5" height="4" fill="#53b987"/>
<rect x="483" y="331" width="1" height="8" fill="#ef7f8b"/>
<rect x="481" y="332" width="5" height="7" fill="#eb4d5c"/>
<rect x="491" y="329" width="1" height="12" fill="#7fcaa5"/>
<rect x="489" y="333" width="5" height="6" fill="#53b987"/>
<rect x="498" y="320" width="1" height="15" fill="#7fcaa5"/>
<rect x="496" y="320" width="5" height="14" fill="#53b987"/>
<rect x="505" y="304" width="1" height="20" fill="#7fcaa5"/>
<rect x="503" y="307" width="5" height="14" fill="#53b987"/>
<rect x="513" y="296" width="1" height="11" fill="#7fcaa5"/>
<rect x="511" y="296" width="5" height="11" fill="#53b987"/>
<rect x="520" y="292" width="1" height="7" fill="#7fcaa5"/>
<rect x="518" y="292" width="5" height="5" fill="#53b987"/>
<rect x="528" y="255" width="1" height="52" fill="#ef7f8b"/>
<rect x="526" y="293" width="5" height="1" fill="#eb4d5c"/>
<rect x="535" y="274" width="1" height="39" fill="#7fcaa5"/>
<rect x="533" y="290" width="5" height="4" fill="#53b987"/>
<rect x="542" y="267" width="1" height="37" fill="#7fcaa5"/>
<rect x="540" y="268" width="5" height="24" fill="#53b987"/>
<rect x="550" y="260" width="1" height="13" fill="#7fcaa5"/>
<rect x="548" y="268" width="5" height="1" fill="#53b987"/>
<rect x="557" y="245" width="1" height="31" fill="#7fcaa5"/>
<rect x="555" y="258" width="5" height="11" fill="#53b987"/>
<rect x="565" y="250" width="1" height="18" fill="#7fcaa5"/>
<rect x="563" y="250" width="5" height="9" fill="#53b987"/>
<rect x="572" y="244" width="1" height="11" fill="#7fcaa5"/>
<rect x="570" y="248" width="5" height="3" fill="#53b987"/>
<rect x="580" y="200" width="1" height="49" fill="#7fcaa5"/>
<rect x="578" y="201" width="5" height="48" fill="#53b987"/>
<rect x="587" y="128" width="1" height="86" fill="#7fcaa5"/>
<rect x="585" y="128" width="5" height="74" fill="#53b987"/>
<rect x="594" y="127" width="1" height="77" fill="#ef7f8b"/>
<rect x="592" y="128" width="5" height="21" fill="#eb4d5c"/>
<rect x="602" y="143" width="1" height="80" fill="#ef7f8b"/>
<rect x="600" y="148" width="5" height="30" fill="#eb4d5c"/>
<rect x="609" y="158" width="1" height="58" fill="#7fcaa5"/>
<rect x="607" y="175" width="5" height="3" fill="#53b987"/>
<rect x="617" y="112" width="1" height="64" fill="#7fcaa5"/>
<rect x="615" y="131" width="5" height="45" fill="#53b987"/>
<rect x="624" y="108" width="1" height="35" fill="#7fcaa5"/>
<rect x="622" y="127" width="5" height="5" fill="#53b987"/>
<rect x="631" y="116" width="1" height="39" fill="#ef7f8b"/>
<rect x="629" y="127" width="5" height="11" fill="#eb4d5c"/>
<rect x="639" y="123" width="1" height="23" fill="#7fcaa5"/>
<rect x="637" y="133" width="5" height="5" fill="#53b987"/>
<rect x="646" y="96" width="1" height="38" fill="#7fcaa5"/>
<rect x="644" y="107" width="5" height="27" fill="#53b987"/>
<rect x="654" y="61" width="1" height="51" fill="#7fcaa5"/>
<rect x="652" y="65" width="5" height="43" fill="#53b987"/>
<rect x="661" y="54" width="1" height="29" fill="#ef7f8b"/>
<rect x="659" y="65" width="5" height="7" fill="#eb4d5c"/>
<rect x="668" y="64" width="1" height="34" fill="#ef7f8b"/>
<rect x="666" y="71" width="5" height="1" fill="#eb4d5c"/>
<rect x="676" y="66" width="1" height="57" fill="#ef7f8b"/>
<rect x="674" y="71" width="5" height="31" fill="#eb4d5c"/>
<rect x="683" y="95" width="1" height="63" fill="#ef7f8b"/>
<rect x="681" y="101" width="5" height="31" fill="#eb4d5c"/>
<rect x="691" y="112" width="1" height="54" fill="#ef7f8b"/>
<rect x="689" y="131" width="5" height="23" fill="#eb4d5c"/>
<rect x="698" y="149" width="1" height="111" fill="#ef7f8b"/>
<rect x="696" y="153" width="5" height="39" fill="#eb4d5c"/>
<rect x="705" y="149" width="1" height="54" fill="#7fcaa5"/>
<rect x="703" y="176" width="5" height="17" fill="#53b987"/>
<rect x="713" y="176" width="1" height="52" fill="#ef7f8b"/>
<rect x="711" y="176" width="5" height="13" fill="#eb4d5c"/>
<rect x="720" y="176" width="1" height="35" fill="#ef7f8b"/>
<rect x="718" y="189" width="5" height="6" fill="#eb4d5c"/>
<rect x="728" y="140" width="1" height="57" fill="#7fcaa5"/>
<rect x="726" y="149" width="5" height="45" fill="#53b987"/>
<rect x="735" y="131" width="1" height="49" fill="#ef7f8b"/>
<rect x="733" y="149" width="5" height="10" fill="#eb4d5c"/>
<rect x="742" y="156" width="1" height="47" fill="#ef7f8b"/>
<rect x="740" y="158" width="5" height="23" fill="#eb4d5c"/>
<rect x="750" y="164" width="1" height="28" fill="#ef7f8b"/>
<rect x="748" y="181" width="5" height="3" fill="#eb4d5c"/>
<rect x="757" y="180" width="1" height="58" fill="#ef7f8b"/>
<rect x="755" y="183" width="5" height="43" fill="#eb4d5c"/>
<rect x="765" y="184" width="1" height="44" fill="#7fcaa5"/>
<rect x="763" y="194" width="5" height="32" fill="#53b987"/>
<rect x="772" y="194" width="1" height="26" fill="#ef7f8b"/>
<rect x="770" y="194" width="5" height="12" fill="#eb4d5c"/>
<rect x="779" y="161" width="1" height="57" fill="#7fcaa5"/>
<rect x="777" y="175" width="5" height="32" fill="#53b987"/>
<rect x="787" y="156" width="1" height="21" fill="#7fcaa5"/>
<rect x="785" y="163" width="5" height="12" fill="#53b987"/>
<rect x="794" y="158" width="1" height="28" fill="#ef7f8b"/>
<rect x="792" y="163" width="5" height="1" fill="#eb4d5c"/>
<rect x="802" y="114" width="1" height="58" fill="#7fcaa5"/>
<rect x="800" y="119" width="5" height="45" fill="#53b987"/>
<rect x="809" y="113" width="1" height="24" fill="#7fcaa5"/>
<rect x="807" y="115" width="5" height="5" fill="#53b987"/>
<rect x="816" y="115" width="1" height="35" fill="#ef7f8b"/>
<rect x="814" y="115" width="5" height="26" fill="#eb4d5c"/>
<rect x="824" y="136" width="1" height="58" fill="#ef7f8b"/>
<rect x="822" y="139" width="5" height="29" fill="#eb4d5c"/>
<rect x="831" y="158" width="1" height="31" fill="#ef7f8b"/>
<rect x="829" y="167" width="5" height="16" fill="#eb4d5c"/>
<rect x="839" y="170" width="1" height="36" fill="#7fcaa5"/>
<rect x="837" y="170" width="5" height="13" fill="#53b987"/>
<rect x="846" y="168" width="1" height="53" fill="#ef7f8b"/>
<rect x="844" y="170" width="5" height="29" fill="#eb4d5c"/>
</g>
<line x1="0" y1="119.5" x2="1163" y2="119.5" stroke="#000" stroke-width="1" shape-rendering="crispEdges"/>
<line x1="0" y1="240.5" x2="1163" y2="240.5" stroke="#000" stroke-width="1" shape-rendering="crispEdges"/>
<line x1="410.2" y1="388.9" x2="920.6" y2="178.3" stroke="#1f1fee" stroke-width="1.4"/>
<line x1="0" y1="199.5" x2="1163" y2="199.5" stroke="#eb4d5c" stroke-width="1" stroke-dasharray="2 1" shape-rendering="crispEdges"/>
<polyline points="-4.9,583.0 2.5,576.7 9.9,569.3 17.3,588.4 24.7,592.8 32.1,589.7 39.5,583.3 46.9,569.3 54.3,556.5 61.7,527.2 69.1,509.3 76.5,502.4 83.9,502.4 91.3,497.9 98.8,494.8 106.2,503.0 113.6,517.9 121.0,526.6 128.4,522.4 135.8,508.1 143.2,498.3 150.6,498.3 158.0,506.2 165.4,511.2 172.8,506.5 180.2,503.0 187.6,499.0 195.0,505.4 202.4,500.9 209.8,509.2 217.2,512.1 224.6,515.4 232.0,510.2 239.4,506.3 246.8,509.2 254.2,518.3 261.6,542.1 269.0,553.7 276.4,558.1 283.9,555.1 291.3,563.1 298.7,553.8 306.1,537.1 313.5,510.3 320.9,502.0 328.3,502.5 335.7,510.4 343.1,514.8 350.5,510.9 357.9,519.4 365.3,527.6 372.7,534.6 380.1,538.6 387.5,564.0 394.9,596.0 402.3,629.1 409.7,628.2 417.1,617.6 424.5,579.6 431.9,544.6 439.3,517.3 446.7,504.8 454.1,504.0 461.5,496.8 469.0,498.0 476.4,499.0 483.8,507.4 491.2,504.8 498.6,502.5 506.0,495.7 513.4,492.5 520.8,492.7 528.2,513.8 535.6,536.3 543.0,544.1 550.4,529.9 557.8,515.6 565.2,510.6 572.6,503.9 580.0,495.6 587.4,492.4 594.8,496.6 602.2,512.6 609.6,528.8 617.0,528.0 624.4,517.5 631.8,510.3 639.2,512.5 646.6,510.4 654.1,502.5 661.5,499.8 668.9,501.9 676.3,516.2 683.7,539.9 691.1,571.5 698.5,598.2 705.9,606.6 713.3,610.7 720.7,611.7 728.1,603.4 735.5,594.2 742.9,590.0 750.3,600.7 757.7,621.1 765.1,624.0 772.5,629.7 779.9,607.6 787.3,587.4 794.7,558.0 802.1,530.2 809.5,509.5 816.9,507.3 824.3,532.2 831.7,566.4 839.2,581.4 846.6,597.3" fill="none" stroke="#ff6d1f" stroke-width="1.1"/>
<polyline points="-4.9,570.0 2.5,576.4 9.9,578.2 17.3,607.6 24.7,592.2 32.1,569.8 39.5,584.6 46.9,550.9 54.3,534.1 61.7,492.8 69.1,501.7 76.5,513.2 83.9,492.8 91.3,488.4 98.8,494.5 106.2,517.1 113.6,542.2 121.0,520.4 128.4,504.7 135.8,499.1 143.2,491.1 150.6,504.7 158.0,522.9 165.4,506.1 172.8,490.6 180.2,512.2 187.6,494.1 195.0,510.1 202.4,498.6 209.8,518.8 217.2,518.8 224.6,508.6 232.0,503.2 239.4,507.2 246.8,517.2 254.2,530.6 261.6,578.6 269.0,552.0 276.4,543.6 283.9,569.6 291.3,576.2 298.7,515.6 306.1,519.6 313.5,495.9 320.9,490.6 328.3,520.9 335.7,519.7 343.1,503.7 350.5,509.4 357.9,545.0 365.3,528.3 372.7,530.5 380.1,557.1 387.5,604.5 394.9,626.5 402.3,656.3 409.7,601.8 417.1,594.9 424.5,542.0 431.9,497.0 439.3,512.9 446.7,504.5 454.1,494.7 461.5,491.2 469.0,508.0 476.4,497.6 483.8,516.4 491.2,500.4 498.6,490.7 506.0,495.9 513.4,490.9 520.8,491.1 528.2,559.3 535.6,558.4 543.0,514.7 550.4,516.7 557.8,515.5 565.2,499.6 572.6,496.8 580.0,490.6 587.4,489.9 594.8,509.4 602.2,538.4 609.6,538.5 617.0,507.0 624.4,507.0 631.8,516.8 639.2,513.7 646.6,500.7 654.1,493.0 661.5,505.7 668.9,506.8 676.3,536.1 683.7,576.8 691.1,601.5 698.5,616.3 705.9,601.9 713.3,613.9 720.7,619.2 728.1,577.2 735.5,586.3 742.9,606.6 750.3,609.2 757.7,647.6 765.1,615.2 772.5,626.2 779.9,581.3 787.3,554.6 794.7,538.2 802.1,497.7 809.5,492.5 816.9,531.5 824.3,572.5 831.7,595.2 839.2,576.4 846.6,620.3" fill="none" stroke="#2196f3" stroke-width="1.1"/>
<g shape-rendering="crispEdges">
<rect x="0" y="0" width="1219" height="1" fill="#d6d6d6"/>
<rect x="0" y="478" width="1219" height="1" fill="#505050"/>
<rect x="0" y="665" width="1164" height="1" fill="#505050"/>
<rect x="1163" y="1" width="1" height="665" fill="#505050"/>
<rect x="1164" y="435" width="3" height="1" fill="#505050"/>
<rect x="1164" y="386" width="3" height="1" fill="#505050"/>
<rect x="1164" y="338" width="3" height="1" fill="#505050"/>
<rect x="1164" y="289" width="3" height="1" fill="#505050"/>
<rect x="1164" y="240" width="3" height="1" fill="#505050"/>
<rect x="1164" y="192" width="3" height="1" fill="#505050"/>
<rect x="1164" y="143" width="3" height="1" fill="#505050"/>
<rect x="1164" y="94" width="3" height="1" fill="#505050"/>
<rect x="1164" y="45" width="3" height="1" fill="#505050"/>
<rect x="1164" y="488" width="3" height="1" fill="#505050"/>
<rect x="1164" y="527" width="3" height="1" fill="#505050"/>
<rect x="1164" y="565" width="3" height="1" fill="#505050"/>
<rect x="1164" y="603" width="3" height="1" fill="#505050"/>
<rect x="1164" y="641" width="3" height="1" fill="#505050"/>
<rect x="92" y="666" width="1" height="3" fill="#505050"/>
<rect x="203" y="666" width="1" height="3" fill="#505050"/>
<rect x="321" y="666" width="1" height="3" fill="#505050"/>
<rect x="410" y="666" width="1" height="3" fill="#505050"/>
<rect x="544" y="666" width="1" height="3" fill="#505050"/>
<rect x="669" y="666" width="1" height="3" fill="#505050"/>
<rect x="773" y="666" width="1" height="3" fill="#505050"/>
<rect x="877" y="666" width="1" height="3" fill="#505050"/>
<rect x="1003" y="666" width="1" height="3" fill="#505050"/>
<rect x="1084" y="666" width="1" height="3" fill="#505050"/>
</g>
<text x="1169.6" y="439.8" font-size="11" fill="#4a4a4a" font-weight="normal" text-anchor="start" textLength="39.4" lengthAdjust="spacingAndGlyphs" stroke="#4a4a4a" stroke-width="0.25">4000.00</text>
<text x="1169.6" y="390.8" font-size="11" fill="#4a4a4a" font-weight="normal" text-anchor="start" textLength="39.4" lengthAdjust="spacingAndGlyphs" stroke="#4a4a4a" stroke-width="0.25">6000.00</text>
<text x="1169.6" y="342.8" font-size="11" fill="#4a4a4a" font-weight="normal" text-anchor="start" textLength="39.4" lengthAdjust="spacingAndGlyphs" stroke="#4a4a4a" stroke-width="0.25">8000.00</text>
<text x="1169.6" y="293.8" font-size="11" fill="#4a4a4a" font-weight="normal" text-anchor="start" textLength="45.4" lengthAdjust="spacingAndGlyphs" stroke="#4a4a4a" stroke-width="0.25">10000.00</text>
<text x="1169.6" y="244.8" font-size="11" fill="#4a4a4a" font-weight="normal" text-anchor="start" textLength="45.4" lengthAdjust="spacingAndGlyphs" stroke="#4a4a4a" stroke-width="0.25">12000.00</text>
<text x="1169.6" y="196.8" font-size="11" fill="#4a4a4a" font-weight="normal" text-anchor="start" textLength="45.4" lengthAdjust="spacingAndGlyphs" stroke="#4a4a4a" stroke-width="0.25">14000.00</text>
<text x="1169.6" y="147.8" font-size="11" fill="#4a4a4a" font-weight="normal" text-anchor="start" textLength="45.4" lengthAdjust="spacingAndGlyphs" stroke="#4a4a4a" stroke-width="0.25">16000.00</text>
<text x="1169.6" y="98.8" font-size="11" fill="#4a4a4a" font-weight="normal" text-anchor="start" textLength="45.4" lengthAdjust="spacingAndGlyphs" stroke="#4a4a4a" stroke-width="0.25">18000.00</text>
<text x="1169.6" y="49.8" font-size="11" fill="#4a4a4a" font-weight="normal" text-anchor="start" textLength="45.4" lengthAdjust="spacingAndGlyphs" stroke="#4a4a4a" stroke-width="0.25">20000.00</text>
<text x="1170.4" y="492.8" font-size="11" fill="#4a4a4a" font-weight="normal" text-anchor="start" textLength="46.0" lengthAdjust="spacingAndGlyphs" stroke="#4a4a4a" stroke-width="0.25">100.0000</text>
<text x="1170.4" y="531.8" font-size="11" fill="#4a4a4a" font-weight="normal" text-anchor="start" textLength="39.8" lengthAdjust="spacingAndGlyphs" stroke="#4a4a4a" stroke-width="0.25">80.0000</text>
<text x="1170.4" y="569.8" font-size="11" fill="#4a4a4a" font-weight="normal" text-anchor="start" textLength="39.8" lengthAdjust="spacingAndGlyphs" stroke="#4a4a4a" stroke-width="0.25">60.0000</text>
<text x="1170.4" y="607.8" font-size="11" fill="#4a4a4a" font-weight="normal" text-anchor="start" textLength="39.8" lengthAdjust="spacingAndGlyphs" stroke="#4a4a4a" stroke-width="0.25">40.0000</text>
<text x="1170.4" y="645.8" font-size="11" fill="#4a4a4a" font-weight="normal" text-anchor="start" textLength="39.8" lengthAdjust="spacingAndGlyphs" stroke="#4a4a4a" stroke-width="0.25">20.0000</text>
<rect x="1163" y="112" width="56" height="16" fill="#000000"/>
<rect x="1164" y="119" width="3" height="1" fill="#ffffff"/>
<text x="1170.3" y="124.2" font-size="11" fill="#ffffff" font-weight="normal" text-anchor="start" textLength="44.2" lengthAdjust="spacingAndGlyphs" stroke="#ffffff" stroke-width="0.25">17000.00</text>
<rect x="1163" y="192" width="56" height="16" fill="#eb4d5c"/>
<rect x="1164" y="199" width="3" height="1" fill="#ffffff"/>
<text x="1170.3" y="204.2" font-size="11" fill="#ffffff" font-weight="normal" text-anchor="start" textLength="44.2" lengthAdjust="spacingAndGlyphs" stroke="#ffffff" stroke-width="0.25">13675.00</text>
<rect x="1163" y="233" width="56" height="16" fill="#000000"/>
<rect x="1164" y="240" width="3" height="1" fill="#ffffff"/>
<text x="1170.3" y="245.2" font-size="11" fill="#ffffff" font-weight="normal" text-anchor="start" textLength="44.2" lengthAdjust="spacingAndGlyphs" stroke="#ffffff" stroke-width="0.25">12000.00</text>
<text x="92.3" y="679.6" font-size="11" fill="#4a4a4a" font-weight="normal" text-anchor="middle">Oct</text>
<text x="203.3" y="679.6" font-size="11" fill="#4a4a4a" font-weight="normal" text-anchor="middle">16</text>
<text x="321.5" y="679.6" font-size="11" fill="#4a4a4a" font-weight="normal" text-anchor="middle">Nov</text>
<text x="410.0" y="679.6" font-size="11" fill="#4a4a4a" font-weight="normal" text-anchor="middle">13</text>
<text x="544.6" y="679.6" font-size="11" fill="#4a4a4a" font-weight="normal" text-anchor="middle">Dec</text>
<text x="669.3" y="679.6" font-size="11" fill="#4a4a4a" font-weight="normal" text-anchor="middle">18</text>
<text x="773.5" y="679.6" font-size="11" fill="#4a4a4a" font-weight="bold" text-anchor="middle">2018</text>
<text x="877.5" y="679.6" font-size="11" fill="#4a4a4a" font-weight="normal" text-anchor="middle">15</text>
<text x="1003.3" y="679.6" font-size="11" fill="#4a4a4a" font-weight="normal" text-anchor="middle">Feb</text>
<text x="1084.4" y="679.6" font-size="11" fill="#4a4a4a" font-weight="normal" text-anchor="middle">12</text>
<text x="-4.4" y="679.6" font-size="11" fill="#4a4a4a" font-weight="normal" text-anchor="middle">18</text>
<rect x="2.5" y="13.5" width="12" height="12" rx="1.5" fill="none" stroke="#66666e" stroke-width="1"/>
<line x1="4.5" y1="19.5" x2="12.5" y2="19.5" stroke="#66666e" stroke-width="1"/>
<text x="21.1" y="26.6" font-size="16" fill="#444444" font-weight="normal" text-anchor="start" textLength="219.6" lengthAdjust="spacingAndGlyphs" stroke="#444444" stroke-width="0.3">Bitcoin / Dollar, D, BITSTAMP</text>
<polygon points="245.7,19 252.6,19 249.14999999999998,22" fill="#b5b5b5"/>
<rect x="263" y="15" width="14" height="13.6" fill="#a6a6a6" fill-opacity="0.45"/>
<path d="M265.40,21.80 Q270.00,14.20 274.60,21.80 Q270.00,29.40 265.40,21.80 Z" fill="none" stroke="#fff" stroke-width="1.5"/>
<circle cx="270.0" cy="21.8" r="1.9" fill="none" stroke="#fff" stroke-width="1.3"/>
<rect x="280" y="15" width="14" height="13.6" fill="#a6a6a6" fill-opacity="0.45"/>
<circle cx="287.0" cy="21.8" r="3.4" fill="#fff"/>
<line x1="287.0" y1="21.8" x2="292.00" y2="21.80" stroke="#fff" stroke-width="1.8"/>
<line x1="287.0" y1="21.8" x2="290.54" y2="25.34" stroke="#fff" stroke-width="1.8"/>
<line x1="287.0" y1="21.8" x2="287.00" y2="26.80" stroke="#fff" stroke-width="1.8"/>
<line x1="287.0" y1="21.8" x2="283.46" y2="25.34" stroke="#fff" stroke-width="1.8"/>
<line x1="287.0" y1="21.8" x2="282.00" y2="21.80" stroke="#fff" stroke-width="1.8"/>
<line x1="287.0" y1="21.8" x2="283.46" y2="18.26" stroke="#fff" stroke-width="1.8"/>
<line x1="287.0" y1="21.8" x2="287.00" y2="16.80" stroke="#fff" stroke-width="1.8"/>
<line x1="287.0" y1="21.8" x2="290.54" y2="18.26" stroke="#fff" stroke-width="1.8"/>
<circle cx="287.0" cy="21.8" r="1.6" fill="#d8d8d8"/>
<text x="301.5" y="25.7" font-size="15" fill="#4a4a4a" font-weight="normal" text-anchor="start" textLength="10.1" lengthAdjust="spacingAndGlyphs">O</text>
<text x="314.8" y="25.7" font-size="15" fill="#eb4d5c" font-weight="normal" text-anchor="start" textLength="61.9" lengthAdjust="spacingAndGlyphs">14899.99</text>
<text x="386.0" y="25.7" font-size="15" fill="#4a4a4a" font-weight="normal" text-anchor="start" textLength="9.8" lengthAdjust="spacingAndGlyphs">H</text>
<text x="398.2" y="25.7" font-size="15" fill="#eb4d5c" font-weight="normal" text-anchor="start" textLength="60.9" lengthAdjust="spacingAndGlyphs">14973.07</text>
<text x="470.1" y="25.7" font-size="15" fill="#4a4a4a" font-weight="normal" text-anchor="start" textLength="7.1" lengthAdjust="spacingAndGlyphs">L</text>
<text x="480.3" y="25.7" font-size="15" fill="#eb4d5c" font-weight="normal" text-anchor="start" textLength="62.0" lengthAdjust="spacingAndGlyphs">12800.00</text>
<text x="551.8" y="25.7" font-size="15" fill="#4a4a4a" font-weight="normal" text-anchor="start" textLength="8.6" lengthAdjust="spacingAndGlyphs">C</text>
<text x="563.5" y="25.7" font-size="15" fill="#eb4d5c" font-weight="normal" text-anchor="start" textLength="62.0" lengthAdjust="spacingAndGlyphs">13675.00</text>
<text x="1.4" y="46.7" font-size="11.5" fill="#4a4a4a" font-weight="normal" text-anchor="start" textLength="89.4" lengthAdjust="spacingAndGlyphs">BB (20, close, 2)</text>
<polygon points="96,40.5 102.5,40.5 99.25,43.5" fill="#b5b5b5"/>
<rect x="112.9" y="36.2" width="14" height="13.5" fill="#a6a6a6" fill-opacity="0.45"/>
<path d="M115.30,42.95 Q119.90,35.35 124.50,42.95 Q119.90,50.55 115.30,42.95 Z" fill="none" stroke="#fff" stroke-width="1.5"/>
<circle cx="119.9" cy="42.95" r="1.9" fill="none" stroke="#fff" stroke-width="1.3"/>
<rect x="130.1" y="36.2" width="14" height="13.5" fill="#a6a6a6" fill-opacity="0.45"/>
<circle cx="137.1" cy="42.95" r="3.4" fill="#fff"/>
<line x1="137.1" y1="42.95" x2="142.10" y2="42.95" stroke="#fff" stroke-width="1.8"/>
<line x1="137.1" y1="42.95" x2="140.64" y2="46.49" stroke="#fff" stroke-width="1.8"/>
<line x1="137.1" y1="42.95" x2="137.10" y2="47.95" stroke="#fff" stroke-width="1.8"/>
<line x1="137.1" y1="42.95" x2="133.56" y2="46.49" stroke="#fff" stroke-width="1.8"/>
<line x1="137.1" y1="42.95" x2="132.10" y2="42.95" stroke="#fff" stroke-width="1.8"/>
<line x1="137.1" y1="42.95" x2="133.56" y2="39.41" stroke="#fff" stroke-width="1.8"/>
<line x1="137.1" y1="42.95" x2="137.10" y2="37.95" stroke="#fff" stroke-width="1.8"/>
<line x1="137.1" y1="42.95" x2="140.64" y2="39.41" stroke="#fff" stroke-width="1.8"/>
<circle cx="137.1" cy="42.95" r="1.6" fill="#d8d8d8"/>
<rect x="147.2" y="36.2" width="14" height="13.5" fill="#a6a6a6" fill-opacity="0.45"/>
<line x1="150.2" y1="42.95" x2="158.2" y2="42.95" stroke="#fff" stroke-width="2"/>
<line x1="154.2" y1="38.95" x2="154.2" y2="46.95" stroke="#fff" stroke-width="2"/>
<rect x="164.2" y="36.2" width="14" height="13.5" fill="#a6a6a6" fill-opacity="0.45"/>
<line x1="166.7" y1="38.45" x2="175.7" y2="47.45" stroke="#fff" stroke-width="1.5"/>
<line x1="166.7" y1="47.45" x2="175.7" y2="38.45" stroke="#fff" stroke-width="1.5"/>
<text x="185.6" y="46.7" font-size="11.5" fill="#872323" font-weight="normal" text-anchor="start" textLength="59.3" lengthAdjust="spacingAndGlyphs">14786.9720</text>
<text x="254.7" y="46.7" font-size="11.5" fill="#1c7d92" font-weight="normal" text-anchor="start" textLength="57.6" lengthAdjust="spacingAndGlyphs">16963.4886</text>
<text x="322.6" y="46.7" font-size="11.5" fill="#1c7d92" font-weight="normal" text-anchor="start" textLength="58.0" lengthAdjust="spacingAndGlyphs">12610.4554</text>
<text x="1.4" y="67.1" font-size="11.5" fill="#4a4a4a" font-weight="normal" text-anchor="start" textLength="41.0" lengthAdjust="spacingAndGlyphs">Vol (20)</text>
<polygon points="46.8,61.5 53.3,61.5 50.05,64.5" fill="#b5b5b5"/>
<rect x="64" y="57" width="14" height="13.7" fill="#a6a6a6" fill-opacity="0.45"/>
<path d="M66.40,63.85 Q71.00,56.25 75.60,63.85 Q71.00,71.45 66.40,63.85 Z" fill="none" stroke="#fff" stroke-width="1.5"/>
<circle cx="71.0" cy="63.85" r="1.9" fill="none" stroke="#fff" stroke-width="1.3"/>
<rect x="80.9" y="57" width="14" height="13.7" fill="#a6a6a6" fill-opacity="0.45"/>
<circle cx="87.9" cy="63.85" r="3.4" fill="#fff"/>
<line x1="87.9" y1="63.85" x2="92.90" y2="63.85" stroke="#fff" stroke-width="1.8"/>
<line x1="87.9" y1="63.85" x2="91.44" y2="67.39" stroke="#fff" stroke-width="1.8"/>
<line x1="87.9" y1="63.85" x2="87.90" y2="68.85" stroke="#fff" stroke-width="1.8"/>
<line x1="87.9" y1="63.85" x2="84.36" y2="67.39" stroke="#fff" stroke-width="1.8"/>
<line x1="87.9" y1="63.85" x2="82.90" y2="63.85" stroke="#fff" stroke-width="1.8"/>
<line x1="87.9" y1="63.85" x2="84.36" y2="60.31" stroke="#fff" stroke-width="1.8"/>
<line x1="87.9" y1="63.85" x2="87.90" y2="58.85" stroke="#fff" stroke-width="1.8"/>
<line x1="87.9" y1="63.85" x2="91.44" y2="60.31" stroke="#fff" stroke-width="1.8"/>
<circle cx="87.9" cy="63.85" r="1.6" fill="#d8d8d8"/>
<rect x="98.1" y="57" width="14" height="13.7" fill="#a6a6a6" fill-opacity="0.45"/>
<line x1="101.1" y1="63.85" x2="109.1" y2="63.85" stroke="#fff" stroke-width="2"/>
<line x1="105.1" y1="59.85" x2="105.1" y2="67.85" stroke="#fff" stroke-width="2"/>
<rect x="114.8" y="57" width="14" height="13.7" fill="#a6a6a6" fill-opacity="0.45"/>
<line x1="117.3" y1="59.35" x2="126.3" y2="68.35" stroke="#fff" stroke-width="1.5"/>
<line x1="117.3" y1="68.35" x2="126.3" y2="59.35" stroke="#fff" stroke-width="1.5"/>
<text x="136.9" y="67.1" font-size="11.5" fill="#eb4d5c" font-weight="normal" text-anchor="start" textLength="41.7" lengthAdjust="spacingAndGlyphs">15.395K</text>
<text x="187.9" y="67.1" font-size="11.5" fill="#ff8c3c" font-weight="normal" text-anchor="start" textLength="41.4" lengthAdjust="spacingAndGlyphs">14.802K</text>
<text x="1.4" y="499.2" font-size="11.5" fill="#4a4a4a" font-weight="normal" text-anchor="start" textLength="84.9" lengthAdjust="spacingAndGlyphs">Stoch (14, 3, 1)</text>
<polygon points="90.5,492.5 96.5,492.5 93.5,495.5" fill="#b5b5b5"/>
<rect x="108.3" y="488.6" width="13.5" height="13.1" fill="#a6a6a6" fill-opacity="0.45"/>
<path d="M110.45,495.15 Q115.05,487.55 119.65,495.15 Q115.05,502.75 110.45,495.15 Z" fill="none" stroke="#fff" stroke-width="1.5"/>
<circle cx="115.05" cy="495.15000000000003" r="1.9" fill="none" stroke="#fff" stroke-width="1.3"/>
<rect x="125" y="488.6" width="13.5" height="13.1" fill="#a6a6a6" fill-opacity="0.45"/>
<circle cx="131.75" cy="495.15000000000003" r="3.4" fill="#fff"/>
<line x1="131.75" y1="495.15000000000003" x2="136.75" y2="495.15" stroke="#fff" stroke-width="1.8"/>
<line x1="131.75" y1="495.15000000000003" x2="135.29" y2="498.69" stroke="#fff" stroke-width="1.8"/>
<line x1="131.75" y1="495.15000000000003" x2="131.75" y2="500.15" stroke="#fff" stroke-width="1.8"/>
<line x1="131.75" y1="495.15000000000003" x2="128.21" y2="498.69" stroke="#fff" stroke-width="1.8"/>
<line x1="131.75" y1="495.15000000000003" x2="126.75" y2="495.15" stroke="#fff" stroke-width="1.8"/>
<line x1="131.75" y1="495.15000000000003" x2="128.21" y2="491.61" stroke="#fff" stroke-width="1.8"/>
<line x1="131.75" y1="495.15000000000003" x2="131.75" y2="490.15" stroke="#fff" stroke-width="1.8"/>
<line x1="131.75" y1="495.15000000000003" x2="135.29" y2="491.61" stroke="#fff" stroke-width="1.8"/>
<circle cx="131.75" cy="495.15000000000003" r="1.6" fill="#d8d8d8"/>
<rect x="142.3" y="488.6" width="13.5" height="13.1" fill="#a6a6a6" fill-opacity="0.45"/>
<line x1="145.05" y1="495.15000000000003" x2="153.05" y2="495.15000000000003" stroke="#fff" stroke-width="2"/>
<line x1="149.05" y1="491.15000000000003" x2="149.05" y2="499.15000000000003" stroke="#fff" stroke-width="2"/>
<rect x="158.8" y="488.6" width="13.5" height="13.1" fill="#a6a6a6" fill-opacity="0.45"/>
<line x1="161.05" y1="490.65000000000003" x2="170.05" y2="499.65000000000003" stroke="#fff" stroke-width="1.5"/>
<line x1="161.05" y1="499.65000000000003" x2="170.05" y2="490.65000000000003" stroke="#fff" stroke-width="1.5"/>
<text x="181.1" y="499.2" font-size="11.5" fill="#2196f3" font-weight="normal" text-anchor="start" textLength="40.0" lengthAdjust="spacingAndGlyphs">31.3405</text>
<text x="231.7" y="499.2" font-size="11.5" fill="#ff6d1f" font-weight="normal" text-anchor="start" textLength="38.2" lengthAdjust="spacingAndGlyphs">43.8351</text>
<rect x="0" y="684" width="1219" height="21" fill="#e3e3e6"/>
<text x="10.1" y="699.2" font-size="12" fill="#8c8c8c" font-weight="normal" text-anchor="start" textLength="12.6" lengthAdjust="spacingAndGlyphs">1d</text>
<text x="48.6" y="699.2" font-size="12" fill="#8c8c8c" font-weight="normal" text-anchor="start" textLength="13.5" lengthAdjust="spacingAndGlyphs">5d</text>
<text x="88.0" y="699.2" font-size="12" fill="#8c8c8c" font-weight="normal" text-anchor="start" textLength="15.1" lengthAdjust="spacingAndGlyphs">1m</text>
<text x="129.0" y="699.2" font-size="12" fill="#8c8c8c" font-weight="normal" text-anchor="start" textLength="14.6" lengthAdjust="spacingAndGlyphs">3m</text>
<text x="169.7" y="699.2" font-size="12" fill="#8c8c8c" font-weight="normal" text-anchor="start" textLength="14.9" lengthAdjust="spacingAndGlyphs">6m</text>
<text x="210.4" y="699.2" font-size="12" fill="#8c8c8c" font-weight="normal" text-anchor="start" textLength="22.4" lengthAdjust="spacingAndGlyphs">YTD</text>
<text x="258.7" y="699.2" font-size="12" fill="#8c8c8c" font-weight="normal" text-anchor="start" textLength="13.2" lengthAdjust="spacingAndGlyphs">1y</text>
<text x="297.7" y="699.2" font-size="12" fill="#8c8c8c" font-weight="normal" text-anchor="start" textLength="13.4" lengthAdjust="spacingAndGlyphs">5y</text>
<text x="336.8" y="699.2" font-size="12" fill="#8c8c8c" font-weight="normal" text-anchor="start" textLength="14.4" lengthAdjust="spacingAndGlyphs">All</text>
<text x="376.6" y="699.2" font-size="12" fill="#8c8c8c" font-weight="normal" text-anchor="start" textLength="39.6" lengthAdjust="spacingAndGlyphs">Go to...</text>
<text x="919.8" y="699.2" font-size="12" fill="#8c8c8c" font-weight="normal" text-anchor="start" textLength="76.3" lengthAdjust="spacingAndGlyphs">17:29:41 (UTC)</text>
<text x="1021.6" y="699.2" font-size="12" fill="#8c8c8c" font-weight="normal" text-anchor="start" textLength="19.0" lengthAdjust="spacingAndGlyphs">ext</text>
<text x="1064.8" y="699.2" font-size="12" fill="#8c8c8c" font-weight="normal" text-anchor="start" textLength="9.8" lengthAdjust="spacingAndGlyphs">%</text>
<text x="1099.6" y="699.2" font-size="12" fill="#8c8c8c" font-weight="normal" text-anchor="start" textLength="17.0" lengthAdjust="spacingAndGlyphs">log</text>
<text x="1142.3" y="699.2" font-size="12" fill="#42a5f5" font-weight="normal" text-anchor="start" textLength="24.0" lengthAdjust="spacingAndGlyphs">auto</text>
<g shape-rendering="crispEdges">
<rect x="35" y="688" width="1" height="14" fill="#b4b4b4"/>
<rect x="74" y="688" width="1" height="14" fill="#b4b4b4"/>
<rect x="115" y="688" width="1" height="14" fill="#b4b4b4"/>
<rect x="156" y="688" width="1" height="14" fill="#b4b4b4"/>
<rect x="197" y="688" width="1" height="14" fill="#b4b4b4"/>
<rect x="245" y="688" width="1" height="14" fill="#b4b4b4"/>
<rect x="284" y="688" width="1" height="14" fill="#b4b4b4"/>
<rect x="324" y="688" width="1" height="14" fill="#b4b4b4"/>
<rect x="363" y="688" width="1" height="14" fill="#b4b4b4"/>
<rect x="1008" y="688" width="1" height="14" fill="#b4b4b4"/>
<rect x="1052" y="688" width="1" height="14" fill="#b4b4b4"/>
<rect x="1086" y="688" width="1" height="14" fill="#b4b4b4"/>
<rect x="1128" y="688" width="1" height="14" fill="#b4b4b4"/>
<rect x="1178" y="688" width="1" height="14" fill="#b4b4b4"/>
</g>
<circle cx="1199.1" cy="694.6" r="4.2" fill="none" stroke="#8a8a8a" stroke-width="1.6"/>
<line x1="1202.98" y1="696.21" x2="1204.83" y2="696.97" stroke="#8a8a8a" stroke-width="1.8"/>
<line x1="1200.71" y1="698.48" x2="1201.47" y2="700.33" stroke="#8a8a8a" stroke-width="1.8"/>
<line x1="1197.49" y1="698.48" x2="1196.73" y2="700.33" stroke="#8a8a8a" stroke-width="1.8"/>
<line x1="1195.22" y1="696.21" x2="1193.37" y2="696.97" stroke="#8a8a8a" stroke-width="1.8"/>
<line x1="1195.22" y1="692.99" x2="1193.37" y2="692.23" stroke="#8a8a8a" stroke-width="1.8"/>
<line x1="1197.49" y1="690.72" x2="1196.73" y2="688.87" stroke="#8a8a8a" stroke-width="1.8"/>
<line x1="1200.71" y1="690.72" x2="1201.47" y2="688.87" stroke="#8a8a8a" stroke-width="1.8"/>
<line x1="1202.98" y1="692.99" x2="1204.83" y2="692.23" stroke="#8a8a8a" stroke-width="1.8"/>
</svg>
</body></html>
